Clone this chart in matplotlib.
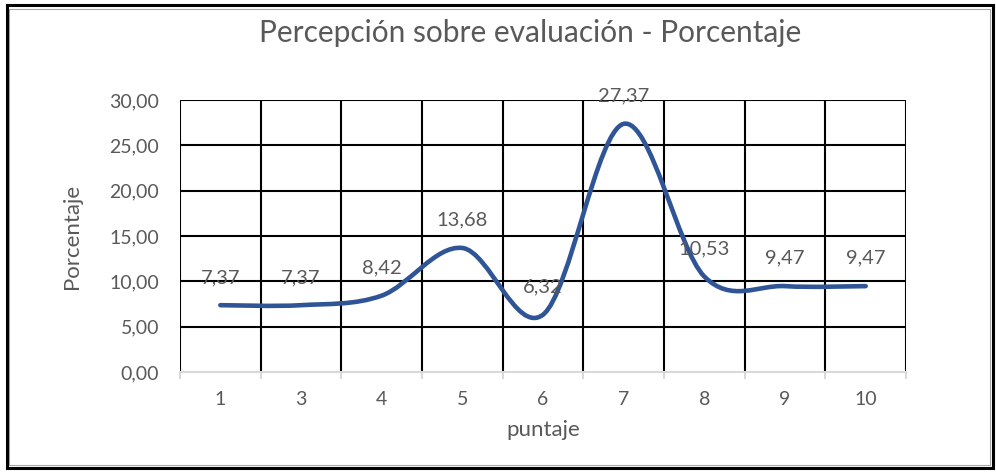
import numpy as np
import matplotlib
matplotlib.use("Agg")
import matplotlib.pyplot as plt
from matplotlib.path import Path
from matplotlib.patches import PathPatch, Rectangle

# ── Data ──────────────────────────────────────────────────────────────────────
categories = ["1", "3", "4", "5", "6", "7", "8", "9", "10"]
porcentaje = [7.37, 7.37, 8.42, 13.68, 6.32, 27.37, 10.53, 9.47, 9.47]
y_ticks = [0, 5, 10, 15, 20, 25, 30]

title = "Percepción sobre evaluación - Porcentaje"
x_label = "puntaje"
y_label = "Porcentaje"

plt.rcParams["font.family"] = ["Lato", "DejaVu Sans"]
text_color = "#595959"
line_color = "#2F5597"

fig = plt.figure(figsize=(9.96, 4.72), dpi=100)
ax = fig.add_axes([180 / 996, 100 / 472, 726 / 996, 272 / 472])

x = np.arange(len(categories), dtype=float)
y = np.array(porcentaje, dtype=float)

# ── Smoothed line (Excel-like Catmull-Rom Bezier) ─────────────────────────────
verts = [(x[0], y[0])]
codes = [Path.MOVETO]
n = len(x)
for i in range(n - 1):
    p0 = np.array([x[max(i - 1, 0)], y[max(i - 1, 0)]])
    p1 = np.array([x[i], y[i]])
    p2 = np.array([x[i + 1], y[i + 1]])
    p3 = np.array([x[min(i + 2, n - 1)], y[min(i + 2, n - 1)]])
    c1 = p1 + (p2 - p0) / 6
    c2 = p2 - (p3 - p1) / 6
    verts += [tuple(c1), tuple(c2), tuple(p2)]
    codes += [Path.CURVE4] * 3
ax.add_patch(PathPatch(Path(verts, codes), facecolor="none", edgecolor=line_color,
                       lw=3.3, capstyle="round", joinstyle="round", zorder=3))

# data labels
for xi, yi in zip(x, y):
    ax.annotate(f"{yi:.2f}".replace(".", ","), xy=(xi, yi), xytext=(0, 20),
                textcoords="offset points", ha="center", va="center",
                fontsize=14.5, color=text_color, zorder=4)

# ── Axes & grid ───────────────────────────────────────────────────────────────
ax.set_xlim(-0.5, n - 0.5)
ax.set_ylim(0, 30)
for b in np.arange(-0.5, n, 1.0):
    ax.axvline(b, color="black", lw=1.5, zorder=1)
for t in y_ticks[1:]:
    ax.axhline(t, color="black", lw=1.5, zorder=1)

for s in ax.spines.values():
    s.set_visible(False)
ax.spines["bottom"].set_visible(True)
ax.spines["bottom"].set_color("#D9D9D9")
ax.spines["bottom"].set_linewidth(1.5)
ax.spines["bottom"].set_zorder(2)

ax.set_xticks(np.arange(-0.5, n, 1.0))
ax.set_xticks(x, minor=True)
ax.set_xticklabels([""] * (n + 1))
ax.set_xticklabels(categories, minor=True)
ax.tick_params(axis="x", which="major", length=5, width=1.5, color="#D9D9D9")
ax.tick_params(axis="x", which="minor", length=0, pad=14, labelsize=14,
               labelcolor=text_color)

ax.set_yticks(y_ticks)
ax.set_yticklabels([f"{t:.2f}".replace(".", ",") for t in y_ticks])
ax.tick_params(axis="y", length=0, pad=15, labelsize=14, labelcolor=text_color)

ax.set_xlabel(x_label, fontsize=16, color=text_color, labelpad=8)
ax.set_ylabel(y_label, fontsize=16, color=text_color, labelpad=20)

fig.text(530 / 996, 1 - 33 / 472, title, ha="center", va="center",
         fontsize=21.5, color=text_color)

# chart border
fig.patches.append(Rectangle((9 / 996, 7 / 472), 981 / 996, 456 / 472,
                             transform=fig.transFigure, fill=False,
                             edgecolor="#A6A6A6", lw=0.8))
fig.patches.append(Rectangle((7 / 996, 4 / 472), 986 / 996, 463 / 472,
                             transform=fig.transFigure, fill=False,
                             edgecolor="black", lw=2.2))

fig.savefig("out.png", dpi=100)
